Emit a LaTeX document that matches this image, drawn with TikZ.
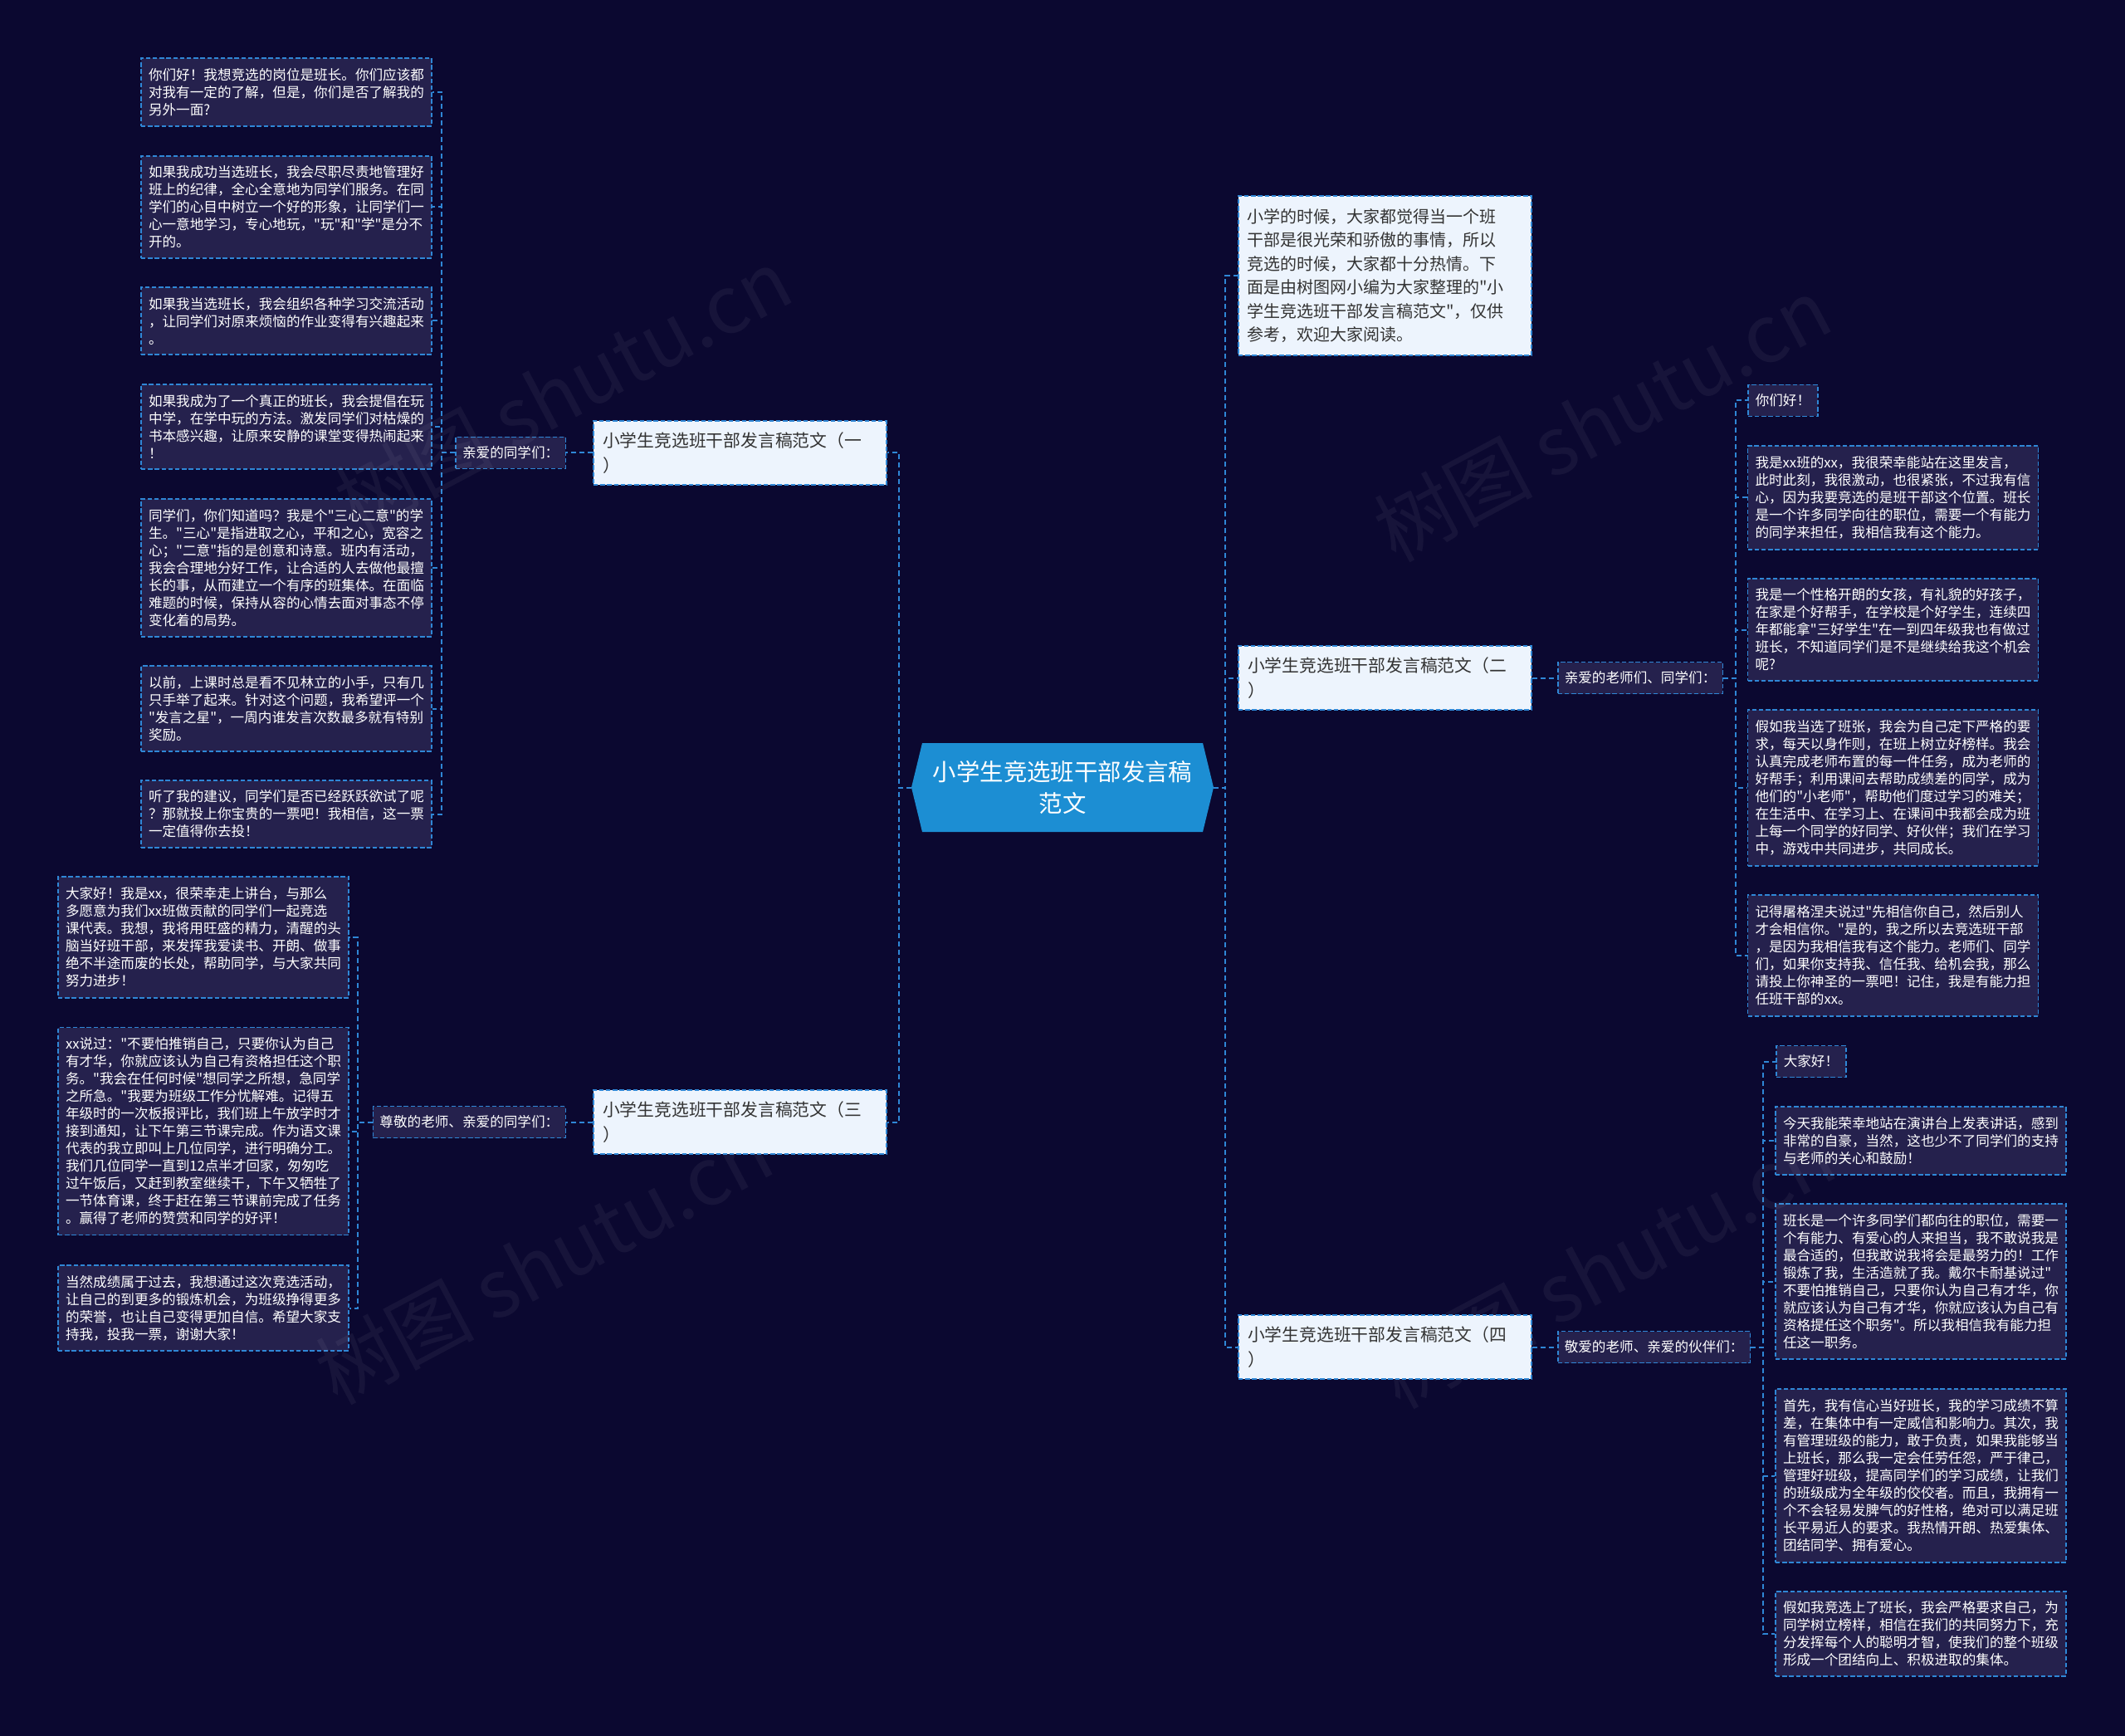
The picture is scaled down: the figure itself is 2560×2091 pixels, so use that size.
\documentclass[tikz,border=0pt]{standalone}
\usepackage{fontspec}
\setmainfont{Noto Sans CJK SC}[Ligatures=TeXOff]
\definecolor{bgc}{HTML}{0B0830}
\definecolor{leaffill}{HTML}{25214D}
\definecolor{lineblue}{HTML}{2F87D6}
\definecolor{branchfill}{HTML}{EDF4FD}
\definecolor{darktext}{HTML}{333333}
\definecolor{cfill}{HTML}{1C8ED3}
\newcommand{\leaffont}{\fontsize{8.3pt}{10.5pt}\selectfont}
\newcommand{\branchfont}{\fontsize{10.4pt}{15pt}\selectfont}
\newcommand{\introfont}{\fontsize{10pt}{14.2pt}\selectfont}
\newcommand{\centerfont}{\fontsize{14.2pt}{19pt}\selectfont}
\tikzset{
  conn/.style={draw=lineblue, line width=1pt, dash pattern=on 3pt off 2pt},
  boxline/.style={draw=lineblue, line width=0.75pt, dash pattern=on 2.7pt off 1.4pt},
  leaf/.style={boxline, fill=leaffill, text=white, font=\leaffont, align=left,
    text width=166pt, inner xsep=4.5pt, inner ysep=0pt},
  smallleaf/.style={boxline, fill=leaffill, text=white, font=\leaffont,
    inner xsep=4.5pt, inner ysep=0pt, minimum height=19pt},
  lab/.style={boxline, fill=leaffill, text=white, font=\leaffont,
    inner xsep=4pt, inner ysep=0pt, minimum height=19pt},
  branch/.style={boxline, fill=branchfill, text=darktext, font=\branchfont, align=left,
    text width=165.5pt, inner xsep=5.5pt, inner ysep=0pt, minimum height=38.5pt},
  intro/.style={boxline, fill=branchfill, text=darktext, font=\introfont, align=left,
    text width=166.5pt, inner xsep=5pt, inner ysep=0pt, minimum height=96pt},
  wm/.style={text=white, opacity=0.05, font=\fontsize{48pt}{48pt}\selectfont, rotate=28}
}
\begin{document}
\begin{tikzpicture}[x=0.5pt,y=-0.5pt]
\useasboundingbox (0,0) rectangle (2560,2091);
\fill[bgc] (0,0) rectangle (2560,2091);

% central node
\fill[cfill] (1111,895) -- (1449,895) -- (1462,948.5) -- (1449,1002) -- (1111,1002) -- (1098,948.5) -- cycle;
\node[text=white, font=\centerfont, align=center, minimum width=182pt, minimum height=53.5pt, inner sep=0pt] (c) at (1280,948.5) {小学生竞选班干部发言稿\\范文};

% branches
\node[branch] (b1) at (891.5,545.5) {小学生竞选班干部发言稿范文（一\\）};
\node[branch] (b3) at (891.5,1351.5) {小学生竞选班干部发言稿范文（三\\）};
\node[intro] (intro) at (1668.5,332) {小学的时候，大家都觉得当一个班\\干部是很光荣和骄傲的事情，所以\\竞选的时候，大家都十分热情。下\\面是由树图网小编为大家整理的"小\\学生竞选班干部发言稿范文"，仅供\\参考，欢迎大家阅读。};
\node[branch] (b2) at (1668.5,816.5) {小学生竞选班干部发言稿范文（二\\）};
\node[branch] (b4) at (1668.5,1622.5) {小学生竞选班干部发言稿范文（四\\）};

% labels
\node[lab, anchor=east] (lab1) at (682,545.5) {亲爱的同学们：};
\node[lab, anchor=east] (lab3) at (682,1351.5) {尊敬的老师、亲爱的同学们：};
\node[lab, anchor=west] (lab2) at (1876,816.5) {亲爱的老师们、同学们：};
\node[lab, anchor=west] (lab4) at (1876,1622.5) {敬爱的老师、亲爱的伙伴们：};

% leaves of branch 1
\node[leaf, minimum height=41pt] (l1a) at (345,111) {你们好！我想竞选的岗位是班长。你们应该都\\对我有一定的了解，但是，你们是否了解我的\\另外一面?};
\node[leaf, minimum height=61.5pt] (l1b) at (345,249.5) {如果我成功当选班长，我会尽职尽责地管理好\\班上的纪律，全心全意地为同学们服务。在同\\学们的心目中树立一个好的形象，让同学们一\\心一意地学习，专心地玩，"玩"和"学"是分不\\开的。};
\node[leaf, minimum height=40.5pt] (l1c) at (345,386.5) {如果我当选班长，我会组织各种学习交流活动\\，让同学们对原来烦恼的作业变得有兴趣起来\\。};
\node[leaf, minimum height=51pt] (l1d) at (345,514) {如果我成为了一个真正的班长，我会提倡在玩\\中学，在学中玩的方法。激发同学们对枯燥的\\书本感兴趣，让原来安静的课堂变得热闹起来\\！};
\node[leaf, minimum height=83pt] (l1e) at (345,684) {同学们，你们知道吗？我是个"三心二意"的学\\生。"三心"是指进取之心，平和之心，宽容之\\心；"二意"指的是创意和诗意。班内有活动，\\我会合理地分好工作，让合适的人去做他最擅\\长的事，从而建立一个有序的班集体。在面临\\难题的时候，保持从容的心情去面对事态不停\\变化着的局势。};
\node[leaf, minimum height=51.5pt] (l1f) at (345,853.5) {以前，上课时总是看不见林立的小手，只有几\\只手举了起来。针对这个问题，我希望评一个\\"发言之星"，一周内谁发言次数最多就有特别\\奖励。};
\node[leaf, minimum height=40.5pt] (l1g) at (345,980.5) {听了我的建议，同学们是否已经跃跃欲试了呢\\？那就投上你宝贵的一票吧！我相信，这一票\\一定值得你去投！};

% leaves of branch 3
\node[leaf, minimum height=73pt] (l3a) at (245,1129) {大家好！我是xx，很荣幸走上讲台，与那么\\多愿意为我们xx班做贡献的同学们一起竞选\\课代表。我想，我将用旺盛的精力，清醒的头\\脑当好班干部，来发挥我爱读书、开朗、做事\\绝不半途而废的长处，帮助同学，与大家共同\\努力进步！};
\node[leaf, minimum height=125pt] (l3b) at (245,1362.5) {xx说过："不要怕推销自己，只要你认为自己\\有才华，你就应该认为自己有资格担任这个职\\务。"我会在任何时候"想同学之所想，急同学\\之所急。"我要为班级工作分忧解难。记得五\\年级时的一次板报评比，我们班上午放学时才\\接到通知，让下午第三节课完成。作为语文课\\代表的我立即叫上几位同学，进行明确分工。\\我们几位同学一直到12点半才回家，匆匆吃\\过午饭后，又赶到教室继续干，下午又牺牲了\\一节体育课，终于赶在第三节课前完成了任务\\。赢得了老师的赞赏和同学的好评！};
\node[leaf, minimum height=51.5pt] (l3c) at (245,1575.5) {当然成绩属于过去，我想通过这次竞选活动，\\让自己的到更多的锻炼机会，为班级挣得更多\\的荣誉，也让自己变得更加自信。希望大家支\\持我，投我一票，谢谢大家！};

% leaves of branch 2
\node[smallleaf, anchor=west] (l2a) at (2105,482.5) {你们好！};
\node[leaf, minimum height=62.5pt] (l2b) at (2280.5,599.5) {我是xx班的xx，我很荣幸能站在这里发言，\\此时此刻，我很激动，也很紧张，不过我有信\\心，因为我要竞选的是班干部这个位置。班长\\是一个许多同学向往的职位，需要一个有能力\\的同学来担任，我相信我有这个能力。};
\node[leaf, minimum height=61.5pt] (l2c) at (2280.5,758.5) {我是一个性格开朗的女孩，有礼貌的好孩子，\\在家是个好帮手，在学校是个好学生，连续四\\年都能拿"三好学生"在一到四年级我也有做过\\班长，不知道同学们是不是继续给我这个机会\\呢?};
\node[leaf, minimum height=94pt] (l2d) at (2280.5,949) {假如我当选了班张，我会为自己定下严格的要\\求，每天以身作则，在班上树立好榜样。我会\\认真完成老师布置的每一件任务，成为老师的\\好帮手；利用课间去帮助成绩差的同学，成为\\他们的"小老师"，帮助他们度过学习的难关；\\在生活中、在学习上、在课间中我都会成为班\\上每一个同学的好同学、好伙伴；我们在学习\\中，游戏中共同进步，共同成长。};
\node[leaf, minimum height=73pt] (l2e) at (2280.5,1151) {记得屠格涅夫说过"先相信你自己，然后别人\\才会相信你。"是的，我之所以去竞选班干部\\，是因为我相信我有这个能力。老师们、同学\\们，如果你支持我、信任我、给机会我，那么\\请投上你神圣的一票吧！记住，我是有能力担\\任班干部的xx。};

% leaves of branch 4
\node[smallleaf, anchor=west] (l4a) at (2139,1278.5) {大家好！};
\node[leaf, minimum height=41pt] (l4b) at (2314,1374) {今天我能荣幸地站在演讲台上发表讲话，感到\\非常的自豪，当然，这也少不了同学们的支持\\与老师的关心和鼓励！};
\node[leaf, minimum height=93.5pt] (l4c) at (2314,1543.5) {班长是一个许多同学们都向往的职位，需要一\\个有能力、有爱心的人来担当，我不敢说我是\\最合适的，但我敢说我将会是最努力的！工作\\锻炼了我，生活造就了我。戴尔卡耐基说过"\\不要怕推销自己，只要你认为自己有才华，你\\就应该认为自己有才华，你就应该认为自己有\\资格提任这个职务"。所以我相信我有能力担\\任这一职务。};
\node[leaf, minimum height=104.5pt] (l4d) at (2314,1777.5) {首先，我有信心当好班长，我的学习成绩不算\\差，在集体中有一定威信和影响力。其次，我\\有管理班级的能力，敢于负责，如果我能够当\\上班长，那么我一定会任劳任怨，严于律己，\\管理好班级，提高同学们的学习成绩，让我们\\的班级成为全年级的佼佼者。而且，我拥有一\\个不会轻易发脾气的好性格，绝对可以满足班\\长平易近人的要求。我热情开朗、热爱集体、\\团结同学、拥有爱心。};
\node[leaf, minimum height=51pt] (l4e) at (2314,1968) {假如我竞选上了班长，我会严格要求自己，为\\同学树立榜样，相信在我们的共同努力下，充\\分发挥每个人的聪明才智，使我们的整个班级\\形成一个团结向上、积极进取的集体。};

% connectors
\foreach \b in {b1,b3} \draw[conn] (c.west) -- ++(-15,0) |- (\b.east);
\foreach \b in {intro,b2,b4} \draw[conn] (c.east) -- ++(14,0) |- (\b.west);
\draw[conn] (b1.west) -- (lab1.east);
\draw[conn] (b3.west) -- (lab3.east);
\draw[conn] (b2.east) -- (lab2.west);
\draw[conn] (b4.east) -- (lab4.west);
\foreach \n in {a,b,c,d,e,f,g} \draw[conn] (lab1.west) -- ++(-16,0) |- (l1\n.east);
\foreach \n in {a,b,c} \draw[conn] (lab3.west) -- ++(-18,0) |- (l3\n.east);
\foreach \n in {a,b,c,d,e} \draw[conn] (lab2.east) -- ++(15,0) |- (l2\n.west);
\foreach \n in {a,b,c,d,e} \draw[conn] (lab4.east) -- ++(15,0) |- (l4\n.west);

% watermarks
\node[wm] (wm1) at (678,470) {树图 shutu.cn};
\node[wm] (wm2) at (1930,505) {树图 shutu.cn};
\node[wm] (wm3) at (655,1520) {树图 shutu.cn};
\node[wm] (wm4) at (1935,1525) {树图 shutu.cn};
\end{tikzpicture}
\end{document}
